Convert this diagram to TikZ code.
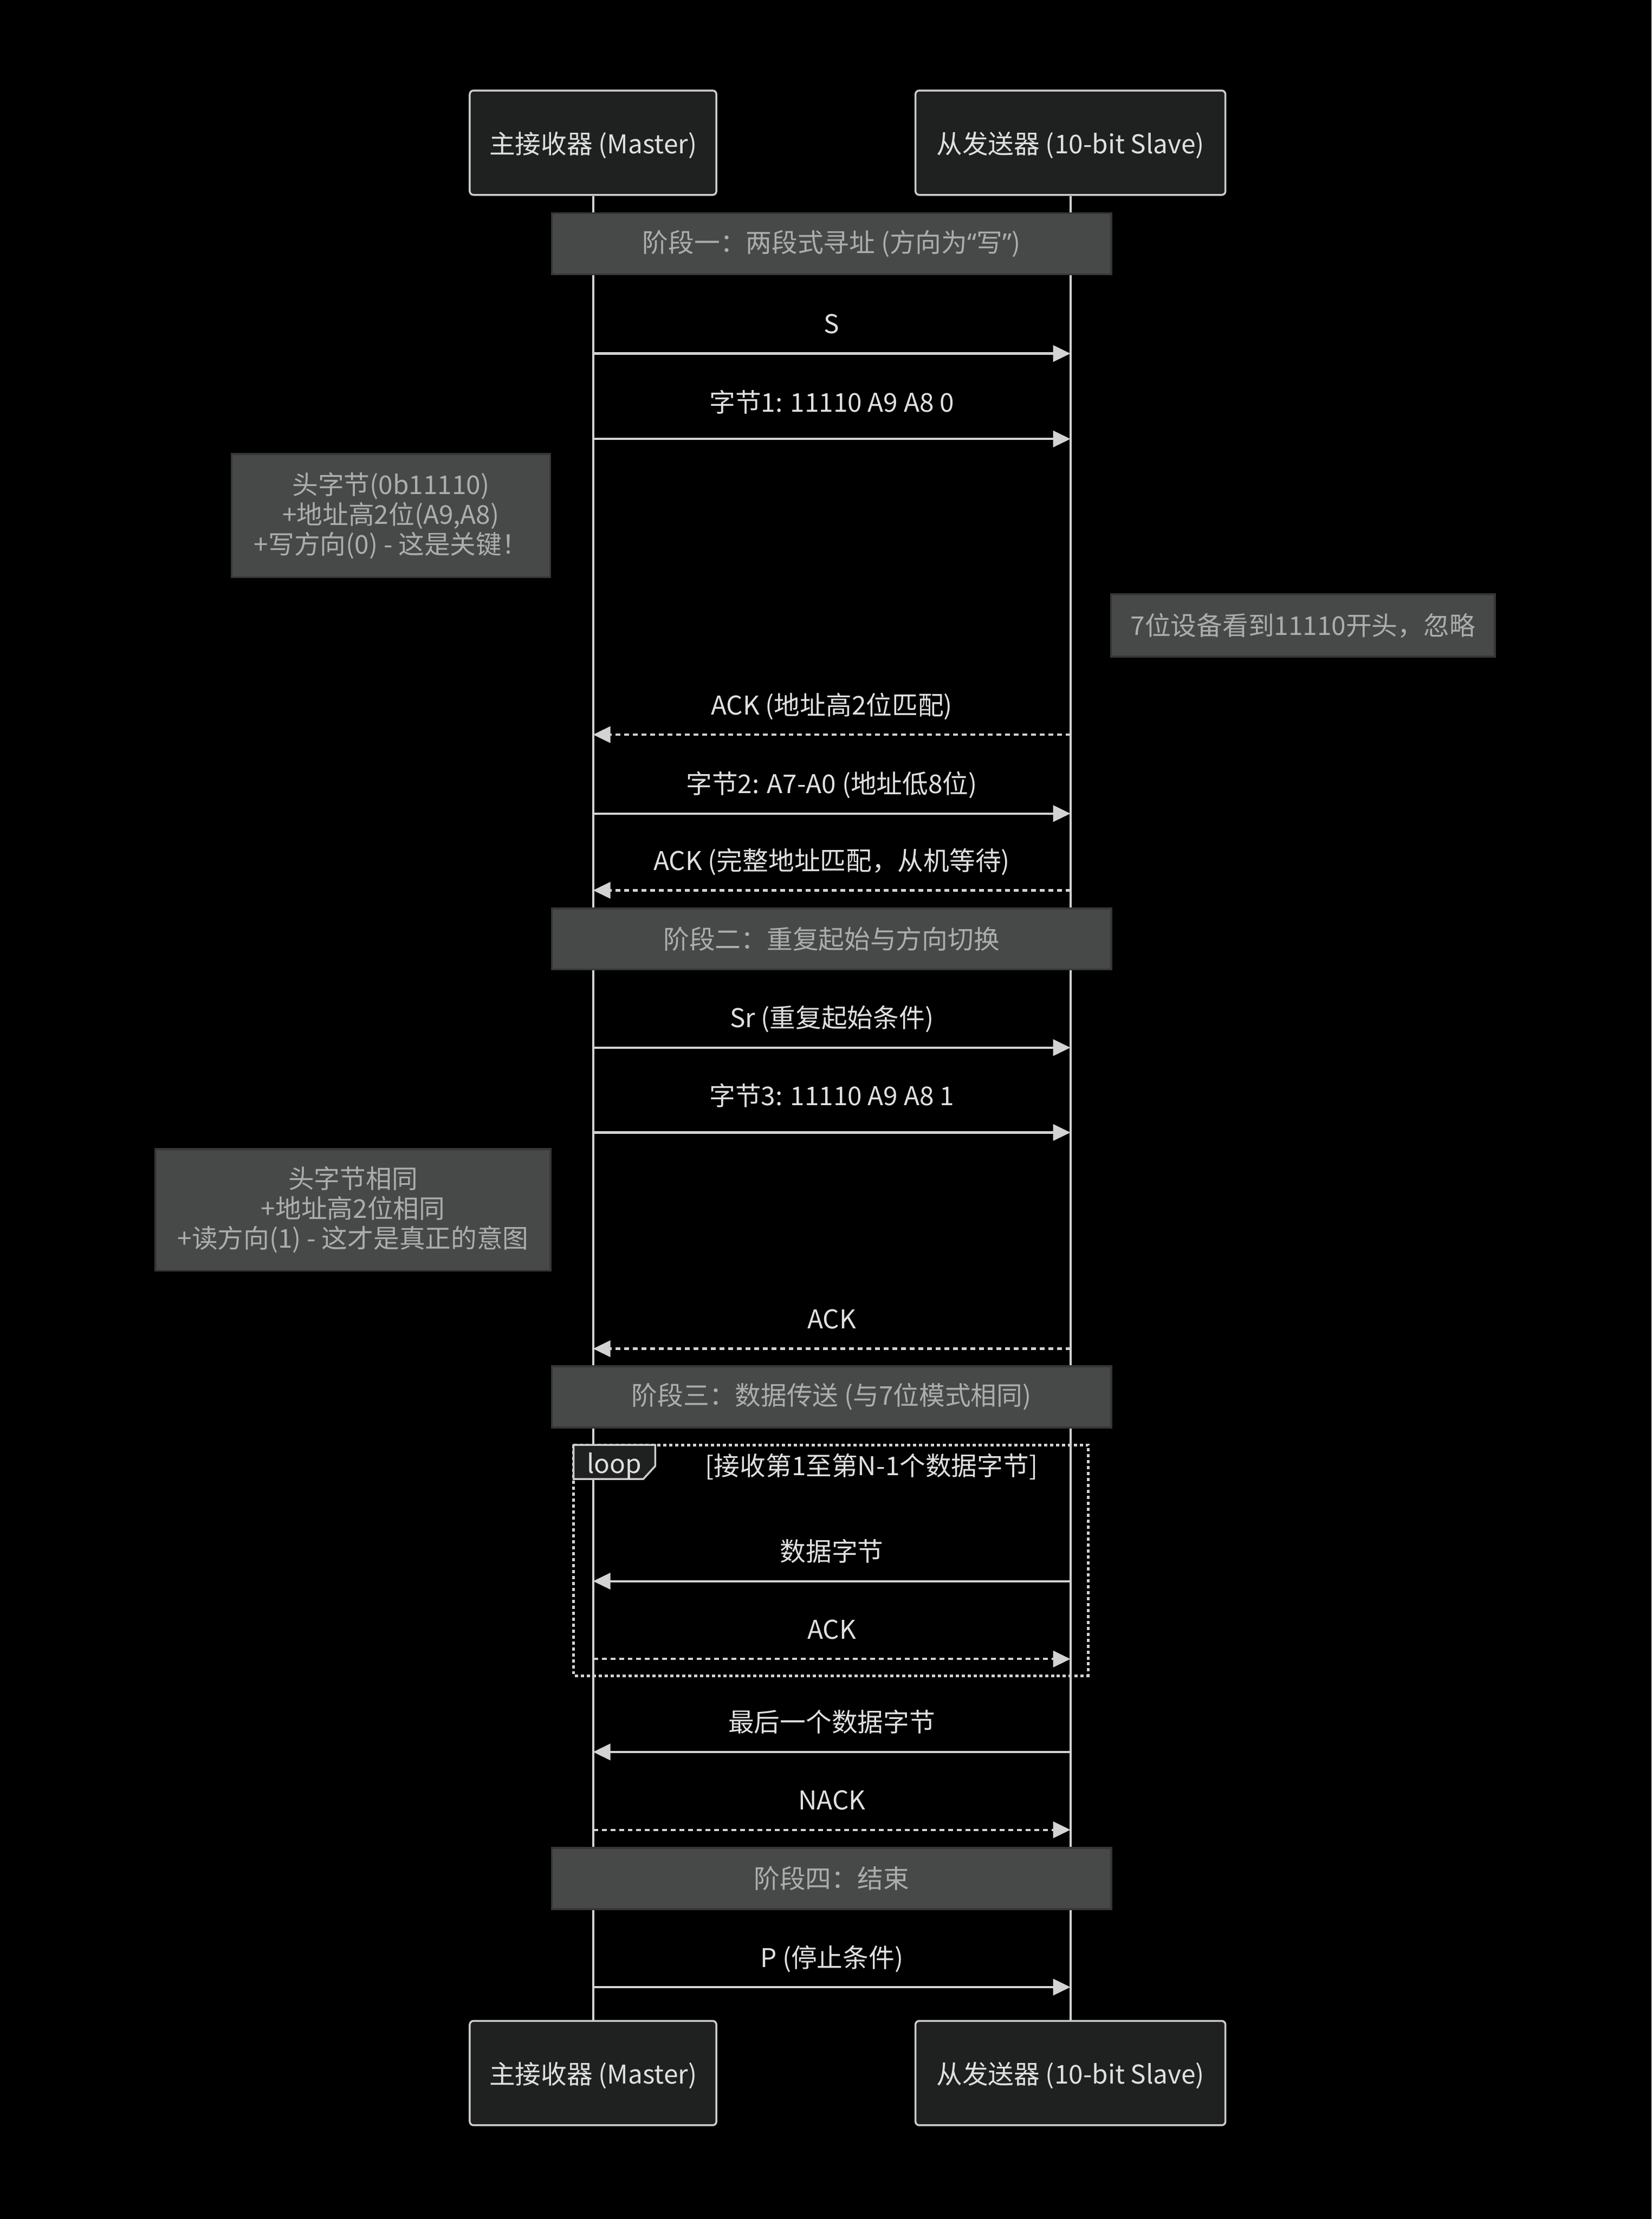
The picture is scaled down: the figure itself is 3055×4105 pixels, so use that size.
\documentclass[tikz,border=0pt]{standalone}
\usepackage{fontspec}
\setmainfont{Noto Sans CJK SC}
\newfontfamily\latinq{Noto Sans}
\usetikzlibrary{arrows.meta, positioning, calc}

\definecolor{actorfill}{HTML}{1F2020}
\definecolor{actorline}{HTML}{CCCCCC}
\definecolor{notefill}{HTML}{474949}
\definecolor{noteline}{HTML}{363636}
\definecolor{notetext}{HTML}{ADADAD}
\definecolor{msgline}{HTML}{D3D3D3}
\definecolor{msgtext}{HTML}{E0E0E0}

\tikzset{
  actor/.style={draw=actorline, fill=actorfill, rounded corners=2pt, line width=1pt,
    minimum height=1.93cm, inner sep=0pt, text=msgtext, font=\fontsize{13.6}{16}\selectfont,
    text height=0.5cm, text depth=0.1cm},
  life/.style={draw=msgline, line width=1.1pt},
  phase/.style={draw=noteline, fill=notefill, line width=1pt, minimum width=10.34cm,
    minimum height=1.13cm, inner sep=0pt, text=notetext, font=\fontsize{13.6}{16}\selectfont},
  remark/.style={draw=noteline, fill=notefill, line width=1pt, inner sep=0pt, align=center,
    text=notetext, font=\fontsize{13.6}{15.6}\selectfont},
  msg/.style={draw=msgline, line width=1.2pt, ->},
  reply/.style={msg, dash pattern=on 0.09cm off 0.07cm},
  lbl/.style={text=msgtext, font=\fontsize{13.6}{16}\selectfont, inner sep=0pt,
    text height=0.36cm, text depth=0.1cm, midway, yshift=0.50cm},
  loopbox/.style={draw=msgline, line width=1.5pt, dash pattern=on 0.06cm off 0.05cm},
  looptag/.style={draw=actorline, fill=actorfill, line width=1pt},
}

\begin{document}
\begin{tikzpicture}[x=0.01cm, y=-0.01cm, >={Triangle[length=0.32cm, width=0.3cm]}]
    % Background
    \fill[black] (0,0) rectangle (3055,4105);

    % Participants
    \node[actor, minimum width=4.56cm] (mstTop) at (1097,264) {主接收器 (Master)};
    \node[actor, minimum width=5.73cm] (slvTop) at (1980,264) {从发送器 (10-bit Slave)};
    \node[actor, minimum width=4.56cm] (mstBot) at (1097,3835) {主接收器 (Master)};
    \node[actor, minimum width=5.73cm] (slvBot) at (1980,3835) {从发送器 (10-bit Slave)};

    % Lifelines
    \draw[life] (mstTop) -- (mstBot);
    \draw[life] (slvTop) -- (slvBot);

    % Phase banners
    \node[phase] (ph1) at (1538,451) {阶段一：两段式寻址 (方向为{\latinq “}写{\latinq ”})};
    \node[phase] (ph2) at (1538,1737) {阶段二：重复起始与方向切换};
    \node[phase] (ph3) at (1538,2584) {阶段三：数据传送 (与7位模式相同)};
    \node[phase] (ph4) at (1538,3475) {阶段四：结束};

    % Side notes
    \node[remark, minimum width=5.89cm, minimum height=2.28cm] (hdrW) at (723,954)
        {头字节(0b11110)\\+地址高2位(A9,A8)\\+写方向(0) - 这是关键！};
    \node[remark, minimum width=7.10cm, minimum height=1.15cm] (ign7) at (2410,1157)
        {7位设备看到11110开头，忽略};
    \node[remark, minimum width=7.30cm, minimum height=2.25cm] (hdrR) at (653,2238)
        {头字节相同\\+地址高2位相同\\+读方向(1) - 这才是真正的意图};

    % Message anchors on the lifelines
    \coordinate (m1) at (1097,654);  \coordinate (s1) at (1980,654);
    \coordinate (m2) at (1097,812);  \coordinate (s2) at (1980,812);
    \coordinate (m3) at (1097,1359); \coordinate (s3) at (1980,1359);
    \coordinate (m4) at (1097,1505); \coordinate (s4) at (1980,1505);
    \coordinate (m5) at (1097,1647); \coordinate (s5) at (1980,1647);
    \coordinate (m6) at (1097,1938); \coordinate (s6) at (1980,1938);
    \coordinate (m7) at (1097,2095); \coordinate (s7) at (1980,2095);
    \coordinate (m8) at (1097,2495); \coordinate (s8) at (1980,2495);
    \coordinate (m9) at (1097,2925); \coordinate (s9) at (1980,2925);
    \coordinate (m10) at (1097,3069); \coordinate (s10) at (1980,3069);
    \coordinate (m11) at (1097,3241); \coordinate (s11) at (1980,3241);
    \coordinate (m12) at (1097,3385); \coordinate (s12) at (1980,3385);
    \coordinate (m13) at (1097,3676); \coordinate (s13) at (1980,3676);

    % Addressing (write)
    \draw[msg] (m1) -- (s1) node[lbl] {S};
    \draw[msg] (m2) -- (s2) node[lbl, yshift=0.13cm] {字节1: 11110 A9 A8 0};
    \draw[reply] (s3) -- (m3) node[lbl] {ACK (地址高2位匹配)};
    \draw[msg] (m4) -- (s4) node[lbl] {字节2: A7-A0 (地址低8位)};
    \draw[reply] (s5) -- (m5) node[lbl] {ACK (完整地址匹配，从机等待)};

    % Repeated start (read)
    \draw[msg] (m6) -- (s6) node[lbl] {Sr (重复起始条件)};
    \draw[msg] (m7) -- (s7) node[lbl, yshift=0.13cm] {字节3: 11110 A9 A8 1};
    \draw[reply] (s8) -- (m8) node[lbl] {ACK};

    % Data loop
    \draw[loopbox] (1061,2673) rectangle (2013,3100);
    \draw[looptag] (1061,2673) -- (1212,2673) -- (1212,2712) -- (1190,2736) -- (1061,2736) -- cycle;
    \node[text=msgtext, font=\fontsize{13.6}{16}\selectfont, inner sep=0pt] (loopTag) at (1136,2712) {loop};
    \node[text=msgtext, font=\fontsize{13.6}{16}\selectfont, inner sep=0pt] (loopCond) at (1612,2713) {[接收第1至第N-1个数据字节]};
    \draw[msg] (s9) -- (m9) node[lbl] {数据字节};
    \draw[reply] (m10) -- (s10) node[lbl] {ACK};

    % Last byte and stop
    \draw[msg] (s11) -- (m11) node[lbl] {最后一个数据字节};
    \draw[reply] (m12) -- (s12) node[lbl] {NACK};
    \draw[msg] (m13) -- (s13) node[lbl] {P (停止条件)};
\end{tikzpicture}
\end{document}
